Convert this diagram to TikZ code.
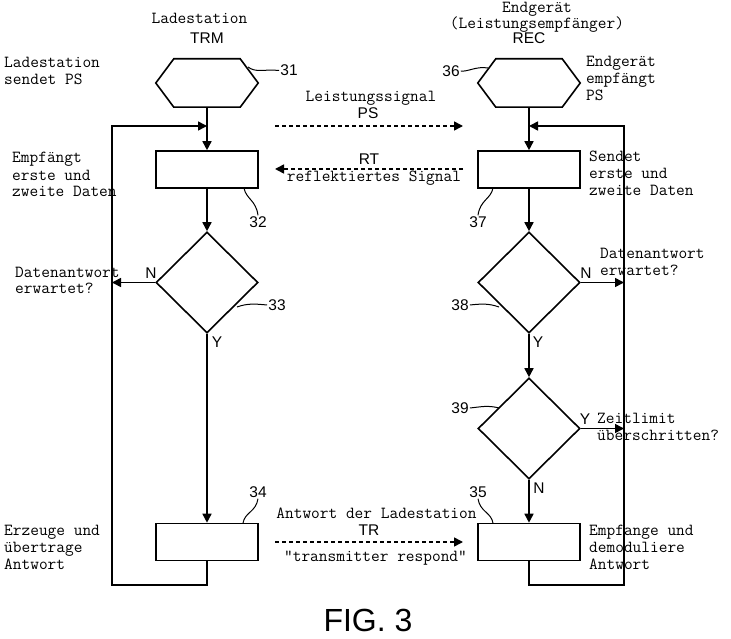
\documentclass[tikz,border=0pt]{standalone}
\usepackage{fontspec}
\setmainfont{Liberation Sans}
\usetikzlibrary{shapes.geometric,arrows.meta}

\begin{document}
\begin{tikzpicture}[x=1pt,y=-1pt,
    box/.style={draw,line width=1.6pt,minimum width=102pt,minimum height=37pt,inner sep=0pt},
    hexbox/.style={minimum width=102pt,minimum height=48pt,inner sep=0pt},
    dec/.style={draw,line width=1.6pt,diamond,minimum width=102pt,minimum height=101pt,inner sep=0pt},
    flow/.style={line width=1.6pt,-{Triangle[length=9pt,width=9pt]}},
    sig/.style={line width=1.6pt,dash pattern=on 4pt off 3pt,-{Triangle[length=9pt,width=9pt]}},
    txt/.style={font=\ttfamily\fontsize{16.9}{17}\selectfont,align=left,anchor=base west,inner sep=0pt},
    lbl/.style={font=\fontsize{15.5}{17}\selectfont,inner sep=1pt},
    ref/.style={line width=1pt}]
    \useasboundingbox (0,0) rectangle (731,639);
    % column titles
    \node[txt,anchor=base] (tl1) at (199.5,24) {Ladestation};
    \node[lbl,anchor=base] (tl2) at (207,44) {TRM};
    \node[txt,anchor=base] (tr1) at (537,13) {Endgerät};
    \node[txt,anchor=base] (tr2) at (537,29) {(Leistungsempfänger)};
    \node[lbl,anchor=base] (tr3) at (529,44) {REC};
    % steps
    \node[hexbox] (s31) at (207,83) {};
    \node[hexbox] (s36) at (529,83) {};
    \foreach \h in {s31,s36}
        \draw[line width=1.6pt] (\h.west) -- ([xshift=18pt]\h.north west) -- ([xshift=-18pt]\h.north east)
            -- (\h.east) -- ([xshift=-18pt]\h.south east) -- ([xshift=18pt]\h.south west) -- cycle;
    \node[box] (s32) at (207,169.5) {};
    \node[box] (s37) at (529,169.5) {};
    \node[dec] (s33) at (207,282.5) {};
    \node[dec] (s38) at (529,282.5) {};
    \node[dec] (s39) at (529,428.5) {};
    \node[box] (s34) at (207,542) {};
    \node[box] (s35) at (529,542) {};
    \coordinate (inL) at (207,126);
    \coordinate (inR) at (529,126);
    \coordinate (cL) at (112,585);
    \coordinate (cR) at (624,585);
    \draw[flow] (s31) -- (s32);
    \draw[flow] (s32) -- (s33);
    \draw[flow] (s33) -- (s34);
    \draw[flow] (s36) -- (s37);
    \draw[flow] (s37) -- (s38);
    \draw[flow] (s38) -- (s39);
    \draw[flow] (s39) -- (s35);
    \draw[flow] (s34.south) |- (cL) |- (inL);
    \draw[flow] (s35.south) |- (cR) |- (inR);
    \draw[flow] (s33.west) -- (s33.west -| cL);
    \draw[flow] (s38.east) -- (s38.east -| cR);
    \draw[flow] (s39.east) -- (s39.east -| cR);
    % decisions
    \node[lbl] (nL) at (151,273) {N};
    \node[lbl] (yL) at (217,342) {Y};
    \node[lbl] (nR) at (586,273) {N};
    \node[lbl] (yR) at (538,342) {Y};
    \node[lbl] (yT) at (585,419) {Y};
    \node[lbl] (nT) at (539,488) {N};
    % signals
    \coordinate (psA) at (275,126);
    \coordinate (psB) at (463,126);
    \coordinate (rtA) at (463,169);
    \coordinate (rtB) at (275,169);
    \coordinate (trA) at (275,542);
    \coordinate (trB) at (463,542);
    \draw[sig] (psA) -- (psB);
    \draw[sig] (rtA) -- (rtB);
    \draw[sig] (trA) -- (trB);
    \node[txt,anchor=base] (ps1) at (371,102) {Leistungssignal};
    \node[lbl,anchor=base] (ps2) at (368,119) {PS};
    \node[lbl,anchor=base] (rt1) at (369,165) {RT};
    \node[txt,anchor=base] (rt2) at (374,182) {reflektiertes Signal};
    \node[txt,anchor=base] (tx1) at (376.5,518) {Antwort der Ladestation};
    \node[lbl,anchor=base] (tx2) at (369,535) {TR};
    \node[txt,anchor=base] (tx3) at (375.5,561) {"transmitter respond"};
    % descriptions
    \node[txt] (d31) at (4,85) {Ladestation\\sendet PS};
    \node[txt] (d36) at (586,101) {Endgerät\\empfängt\\PS};
    \node[txt] (d32) at (12,197) {Empfängt\\erste und\\zweite Daten};
    \node[txt] (d37) at (589,196) {Sendet\\erste und\\zweite Daten};
    \node[txt] (d33) at (15,294) {Datenantwort\\erwartet?};
    \node[txt] (d38) at (600,275) {Datenantwort\\erwartet?};
    \node[txt] (d39) at (597,440) {Zeitlimit\\überschritten?};
    \node[txt] (d34) at (4,569) {Erzeuge und\\übertrage\\Antwort};
    \node[txt] (d35) at (589,569) {Empfange und\\demoduliere\\Antwort};
    % reference numerals
    \node[lbl] (n31) at (289,70.5) {31};
    \node[lbl] (n36) at (451,71) {36};
    \node[lbl] (n32) at (258,222) {32};
    \node[lbl] (n37) at (478,222) {37};
    \node[lbl] (n33) at (277,305) {33};
    \node[lbl] (n38) at (460,305) {38};
    \node[lbl] (n39) at (460,408) {39};
    \node[lbl] (n34) at (258,492) {34};
    \node[lbl] (n35) at (478,492) {35};
    \draw[ref] (248,67) .. controls (256,73) and (263,69) .. (n31.west);
    \draw[ref] (n36.east) .. controls (468,72) and (476,66) .. (488,68);
    \draw[ref] (244,188) .. controls (246,199) and (256,200) .. (n32.north);
    \draw[ref] (493,188) .. controls (491,199) and (480,200) .. (n37.north);
    \draw[ref] (237,307) .. controls (248,303) and (256,304) .. (n33.west);
    \draw[ref] (n38.east) .. controls (480,304) and (488,303) .. (499,307);
    \draw[ref] (n39.east) .. controls (480,407) and (488,405) .. (499,408);
    \draw[ref] (243,523) .. controls (245,512) and (256,512) .. (n34.south);
    \draw[ref] (493,523) .. controls (491,512) and (480,512) .. (n35.south);
    \node[font=\fontsize{32}{36}\selectfont,anchor=base,inner sep=0pt] (fig) at (368,631) {FIG. 3};
\end{tikzpicture}
\end{document}
